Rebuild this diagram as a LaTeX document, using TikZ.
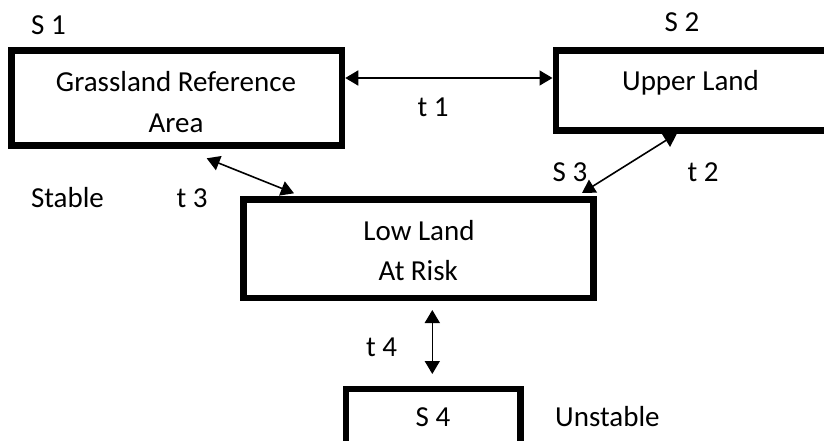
\documentclass[tikz,border=0pt]{standalone}
\usepackage{fontspec}
\setmainfont{Carlito}
\usetikzlibrary{arrows.meta}
\begin{document}
\begin{tikzpicture}[x=1pt,y=-1pt,
  box/.style={draw=black,line width=6.5pt,fill=white,inner sep=0pt},
  lbl/.style={inner sep=0pt,anchor=base,font=\fontsize{29}{34}\selectfont},
  conn/.style={line width=1.6pt,{Triangle[length=13pt,width=15pt]}-{Triangle[length=13pt,width=15pt]}}]
\useasboundingbox (0,0) rectangle (824,441);
\clip (0,0) rectangle (824,441);
% boxes
\node[box,minimum width=330.5pt,minimum height=95pt] (b1) at (176.75,98) {};
\node[box,minimum width=300pt,minimum height=80pt,anchor=west] (b2) at (552.5,90.5) {};
\node[box,minimum width=350pt,minimum height=98.5pt] (b3) at (418.5,248.75) {};
\node[box,minimum width=174.5pt,minimum height=100pt,anchor=north] (b4) at (433.25,385.5) {};
% texts
\node[lbl] (s1) at (48.5,35) {S 1};
\node[lbl] (g1) at (176,92) {Grassland Reference};
\node[lbl] (g2) at (176,132) {Area};
\node[lbl] (st) at (67.5,207) {Stable};
\node[lbl] (t3) at (192,207) {t 3};
\node[lbl] (s2) at (682,32) {S 2};
\node[lbl] (ul) at (690.5,90.5) {Upper Land};
\node[lbl] (t1) at (433,116.7) {t 1};
\node[lbl] (s3) at (570,181.7) {S 3};
\node[lbl] (t2) at (703,181.7) {t 2};
\node[lbl] (ll1) at (419,240) {Low Land};
\node[lbl] (ll2) at (418.3,280) {At Risk};
\node[lbl] (t4) at (381.5,356.7) {t 4};
\node[lbl] (s4) at (433,426.7) {S 4};
\node[lbl,anchor=base west] (us) at (555,426.7) {Unstable};
% connector end points
\coordinate (t1y) at (0,78);
\coordinate (a3) at (206.7,158.3);
\coordinate (b3e) at (294,193.3);
\coordinate (a2) at (677,133.5);
\coordinate (b2e) at (582,193);
\coordinate (a4) at (432.3,310);
\coordinate (b4e) at (432.3,374);
% connectors
\draw[conn] (b1.east |- t1y) -- (b2.west |- t1y);
\draw[conn] (a3) -- (b3e);
\draw[conn] (a2) -- (b2e);
\draw[conn] (a4) -- (b4e);
\end{tikzpicture}
\end{document}
